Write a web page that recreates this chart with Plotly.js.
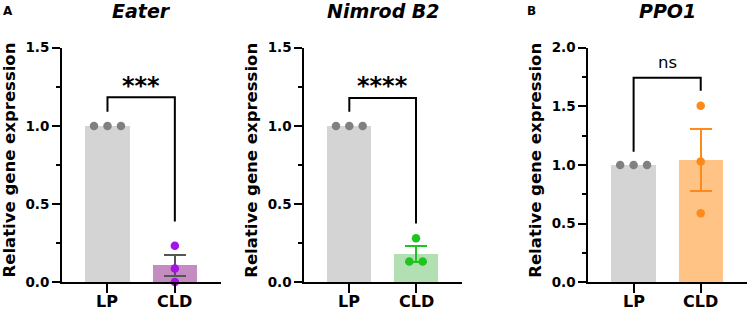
<!DOCTYPE html>
<html>
<head>
<meta charset="utf-8">
<script src="https://cdn.plot.ly/plotly-3.0.1.min.js"></script>
<style>
  html, body { margin: 0; padding: 0; background: #ffffff; }
  #chart { width: 748px; height: 312px; }
</style>
</head>
<body>
<div id="chart"></div>
<script>
// ---------------- data ----------------
const categories = ['LP', 'CLD'];
const geneTitles = ['Eater', 'Nimrod B2', 'PPO1'];
const panelLetters = ['A', 'B'];
const yAxisTitle = 'Relative gene expression';

const eaterLP = [1.0, 1.0, 1.0];
const eaterCLD = [0.233, 0.088, 0.002];
const nimrodLP = [1.0, 1.0, 1.0];
const nimrodCLD = [0.282, 0.133, 0.133];
const ppo1LP = [1.0, 1.0, 1.0];
const ppo1CLD = [1.506, 1.030, 0.588];

const significance = ['***', '****', 'ns'];
const yMax = [1.5, 1.5, 2.0];

// ---------------- styles / layout ----------------
const W = 748, H = 312;
const FONT = 'DejaVu Sans, Arial, sans-serif';
const lpBarColor = '#d4d4d4', lpDotColor = '#808080';
const cldBarColors = ['#c48cc0', '#b3e0b3', '#ffc386'];
const cldDotColors = ['#a414e2', '#1fc41f', '#ff8a1c'];
const cldErrColors = ['#555555', '#1fc41f', '#ff8a1c'];

// plot areas in pixels: [left, right]; shared top/bottom
const plotX = [[62, 221], [304.3, 461.7], [588.3, 746.7]];
const plotTop = 47.7, plotBottom = 282.3;
const xRange = [-0.675, 1.685];

// bracket geometry (data units): [top, left leg end, right leg end]
const brackets = [[1.183, 1.09, 0.388], [1.178, 1.09, 0.376], [1.744, 1.113, 1.633]];
const sigY = [1.255, 1.255, 1.87];

const px = x => x / W;
const py = y => 1 - y / H;

function mean(a) { return a.reduce((s, v) => s + v, 0) / a.length; }
function sem(a) {
  const m = mean(a);
  const v = a.reduce((s, x) => s + (x - m) * (x - m), 0) / (a.length - 1);
  return Math.sqrt(v) / Math.sqrt(a.length);
}
// spread points with (nearly) equal values horizontally
function offsets(vals, tol) {
  const out = new Array(vals.length).fill(0);
  const used = new Array(vals.length).fill(false);
  for (let i = 0; i < vals.length; i++) {
    if (used[i]) continue;
    const grp = [i];
    used[i] = true;
    for (let j = i + 1; j < vals.length; j++) {
      if (!used[j] && Math.abs(vals[j] - vals[i]) < tol) { grp.push(j); used[j] = true; }
    }
    grp.forEach((k, n) => { out[k] = (n - (grp.length - 1) / 2) * 0.2; });
  }
  return out;
}

const groups = [[eaterLP, eaterCLD], [nimrodLP, nimrodCLD], [ppo1LP, ppo1CLD]];
const traces = [];
const shapes = [];
const annotations = [];
const layout = {
  width: W, height: H,
  margin: {l: 0, r: 0, t: 0, b: 0},
  paper_bgcolor: '#ffffff', plot_bgcolor: 'rgba(0,0,0,0)',
  showlegend: false,
  font: {family: FONT, color: '#000000'},
  bargap: 0,
};

groups.forEach((g, p) => {
  const sfx = p === 0 ? '' : String(p + 1);
  const xa = 'x' + sfx, ya = 'y' + sfx;
  const [lp, cld] = g;
  const tol = yMax[p] * 0.02;

  // bars
  traces.push({
    type: 'bar', x: [0], y: [mean(lp)], xaxis: xa, yaxis: ya, width: 0.66,
    marker: {color: lpBarColor, line: {width: 0}}, hoverinfo: 'skip'
  });
  traces.push({
    type: 'bar', x: [1], y: [mean(cld)], xaxis: xa, yaxis: ya, width: 0.66,
    marker: {color: cldBarColors[p], line: {width: 0}}, hoverinfo: 'skip',
    error_y: {type: 'data', array: [sem(cld)], visible: true, color: cldErrColors[p], thickness: 2, width: 11}
  });
  // points
  const oLP = offsets(lp, tol), oCLD = offsets(cld, tol);
  traces.push({
    type: 'scatter', mode: 'markers', x: lp.map((v, i) => 0 + oLP[i]), y: lp,
    xaxis: xa, yaxis: ya, marker: {color: lpDotColor, size: 8.5}, hoverinfo: 'skip', cliponaxis: false
  });
  traces.push({
    type: 'scatter', mode: 'markers', x: cld.map((v, i) => 1 + oCLD[i]), y: cld,
    xaxis: xa, yaxis: ya, marker: {color: cldDotColors[p], size: 8.5}, hoverinfo: 'skip', cliponaxis: false
  });

  layout['xaxis' + sfx] = {
    domain: [px(plotX[p][0]), px(plotX[p][1])], anchor: ya,
    range: xRange, tickvals: [0, 1], ticktext: categories, showticklabels: false,
    showline: true, linewidth: 2, linecolor: '#000000',
    ticks: 'outside', ticklen: 9, tickwidth: 2, tickcolor: '#000000',
    showgrid: false, zeroline: false, fixedrange: true
  };
  layout['yaxis' + sfx] = {
    domain: [py(plotBottom), py(plotTop)], anchor: xa,
    range: [0, yMax[p]], tick0: 0, dtick: 0.5, tickformat: '.1f',
    showline: true, linewidth: 2, linecolor: '#000000',
    ticks: 'outside', ticklen: 8, tickwidth: 2, tickcolor: '#000000',
    minor: {dtick: 0.25, ticks: 'outside', ticklen: 4, tickwidth: 2, tickcolor: '#000000', showgrid: false},
    showgrid: false, zeroline: false, fixedrange: true,
    tickfont: {family: FONT, size: 13.5, color: '#000000', weight: 'bold'}
  };

  // category labels
  categories.forEach((c, i) => {
    annotations.push({
      xref: xa, yref: 'paper', x: i, y: py(301.5), text: c, showarrow: false,
      xanchor: 'center', yanchor: 'middle',
      font: {family: FONT, size: 16, color: '#000000', weight: 'bold'}
    });
  });

  // bracket
  const [bt, bl, br] = brackets[p];
  shapes.push({
    type: 'path', xref: xa, yref: ya,
    path: `M 0,${bl} L 0,${bt} L 1,${bt} L 1,${br}`,
    line: {color: '#000000', width: 2}
  });
  const isNs = significance[p] === 'ns';
  annotations.push({
    xref: xa, yref: ya, x: 0.5, y: sigY[p], text: significance[p], showarrow: false,
    xanchor: 'center', yanchor: 'middle',
    font: isNs ? {family: FONT, size: 16.5, color: '#000000'}
               : {family: FONT, size: 24, color: '#000000', weight: 'bold'}
  });

  // gene title
  const cx = (plotX[p][0] + plotX[p][1]) / 2;
  annotations.push({
    xref: 'paper', yref: 'paper', x: px(cx), y: py(11), text: geneTitles[p], showarrow: false,
    xanchor: 'center', yanchor: 'middle',
    font: {family: FONT, size: 19, color: '#000000', weight: 'bold', style: 'italic'}
  });
  // y title
  annotations.push({
    xref: 'paper', yref: 'paper', x: px(plotX[p][0] - 53.5), y: py(160), text: yAxisTitle,
    showarrow: false, textangle: -90, xanchor: 'center', yanchor: 'middle',
    font: {family: FONT, size: 16.5, color: '#000000', weight: 'bold'}
  });
});

// panel letters
annotations.push({xref: 'paper', yref: 'paper', x: px(8), y: py(11), text: panelLetters[0], showarrow: false,
  xanchor: 'center', yanchor: 'middle', font: {family: FONT, size: 12, color: '#000000', weight: 'bold'}});
annotations.push({xref: 'paper', yref: 'paper', x: px(531), y: py(11), text: panelLetters[1], showarrow: false,
  xanchor: 'center', yanchor: 'middle', font: {family: FONT, size: 12, color: '#000000', weight: 'bold'}});

layout.shapes = shapes;
layout.annotations = annotations;

Plotly.newPlot('chart', traces, layout, {staticPlot: true, displayModeBar: false});
</script>
</body>
</html>
